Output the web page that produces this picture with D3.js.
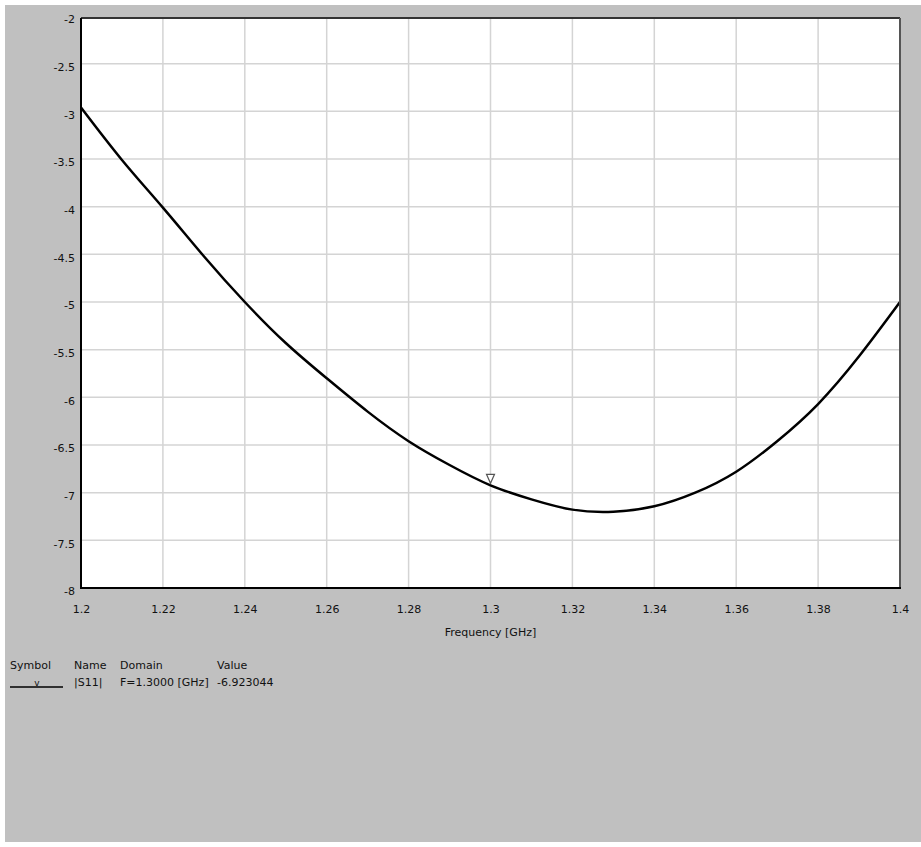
<!DOCTYPE html>
<html>
<head>
<meta charset="utf-8">
<script src="https://cdn.jsdelivr.net/npm/d3@7"></script>
<style>
  body { margin: 0; background: #fff; }
  svg text { font-family: "DejaVu Sans", sans-serif; font-size: 11px; fill: #111; }
</style>
</head>
<body>
<svg id="chart" width="921" height="847"></svg>
<script>
// |S11| in dB
const freqs = [1.20, 1.21, 1.22, 1.23, 1.24, 1.25, 1.26, 1.27, 1.28, 1.29, 1.30,
  1.31, 1.32, 1.33, 1.34, 1.35, 1.36, 1.37, 1.38, 1.39, 1.40];
const s11 = [-2.96, -3.51, -4.01, -4.52, -5.00, -5.43, -5.80, -6.15, -6.46, -6.71, -6.923,
  -7.07, -7.178, -7.20, -7.143, -7.00, -6.78, -6.46, -6.07, -5.57, -5.00];
const xTicks = [1.2, 1.22, 1.24, 1.26, 1.28, 1.3, 1.32, 1.34, 1.36, 1.38, 1.4];
const yTicks = [-2, -2.5, -3, -3.5, -4, -4.5, -5, -5.5, -6, -6.5, -7, -7.5, -8];
const markerFreq = 1.3;
const markerValue = -6.923044;
const legendHead = ['Symbol', 'Name', 'Domain', 'Value'];
const legendRow = ['', '|S11|', 'F=1.3000 [GHz]', '-6.923044'];

const svg = d3.select('#chart');
const plotLeft = 81, plotRight = 900, plotTop = 18, plotBottom = 588;

const x = d3.scaleLinear().domain([1.2, 1.4]).range([plotLeft, plotRight]);
const y = d3.scaleLinear().domain([-8, -2]).range([plotBottom, 16]);

// grey panel
svg.append('rect')
  .attr('x', 5).attr('y', 5).attr('width', 916).attr('height', 837)
  .attr('fill', '#c0c0c0');

svg.append('rect')
  .attr('x', plotLeft).attr('y', plotTop)
  .attr('width', plotRight - plotLeft).attr('height', plotBottom - plotTop)
  .attr('fill', '#fff');

// grid lines
const grid = svg.append('g');
grid.selectAll('line.v')
  .data(xTicks.slice(1, -1))
  .enter()
  .append('line')
  .attr('x1', d => x(d)).attr('x2', d => x(d))
  .attr('y1', plotTop).attr('y2', plotBottom)
  .attr('stroke', '#d4d4d4').attr('stroke-width', 1.5);
grid.selectAll('line.h')
  .data(yTicks.slice(1, -1))
  .enter()
  .append('line')
  .attr('y1', d => y(d)).attr('y2', d => y(d))
  .attr('x1', plotLeft).attr('x2', plotRight)
  .attr('stroke', '#d4d4d4').attr('stroke-width', 1.5);

// tick labels via axes (plain hyphen minus like the original)
const fmt = d => String(d);
const yAxis = svg.append('g')
  .attr('transform', `translate(${plotLeft - 6},0)`)
  .call(d3.axisLeft(y).tickValues(yTicks).tickSize(0).tickPadding(0).tickFormat(fmt));
yAxis.select('.domain').remove();
yAxis.selectAll('text').attr('dy', '0.62em').attr('font-family', null).attr('font-size', null);

const xAxis = svg.append('g')
  .attr('transform', `translate(0,${plotBottom + 17})`)
  .call(d3.axisBottom(x).tickValues(xTicks).tickSize(0).tickPadding(0).tickFormat(fmt));
xAxis.select('.domain').remove();
xAxis.selectAll('text').attr('font-family', null).attr('font-size', null);

svg.append('text')
  .attr('x', (plotLeft + plotRight) / 2).attr('y', 636)
  .attr('text-anchor', 'middle')
  .text('Frequency [GHz]');

// curve
const data = freqs.map((f, i) => ({ f, v: s11[i] }));
const line = d3.line()
  .x(d => x(d.f))
  .y(d => y(d.v))
  .curve(d3.curveNatural);

svg.append('path')
  .datum(data)
  .attr('d', line)
  .attr('fill', 'none')
  .attr('stroke', '#000')
  .attr('stroke-width', 2.5);

// marker triangle
const mx = x(markerFreq), my = y(markerValue);
svg.append('path')
  .attr('d', `M${mx - 4},${my - 11}L${mx + 4},${my - 11}L${mx},${my - 2}Z`)
  .attr('fill', '#fff')
  .attr('stroke', '#555')
  .attr('stroke-width', 1.2);

// frame
svg.append('line').attr('x1', plotLeft).attr('x2', plotRight).attr('y1', plotTop).attr('y2', plotTop)
  .attr('stroke', '#333').attr('stroke-width', 2);
svg.append('line').attr('x1', plotRight).attr('x2', plotRight).attr('y1', plotTop).attr('y2', plotBottom)
  .attr('stroke', '#555').attr('stroke-width', 2);
svg.append('line').attr('x1', plotLeft).attr('x2', plotLeft).attr('y1', plotTop).attr('y2', plotBottom + 1)
  .attr('stroke', '#000').attr('stroke-width', 2);
svg.append('line').attr('x1', plotLeft).attr('x2', plotRight + 1).attr('y1', plotBottom).attr('y2', plotBottom)
  .attr('stroke', '#000').attr('stroke-width', 2);

// marker legend table
const colX = [10, 74, 120, 217];
const legend = svg.append('g');
legend.selectAll('text.head')
  .data(legendHead)
  .enter()
  .append('text')
  .attr('x', (d, i) => colX[i]).attr('y', 669)
  .text(d => d);
legend.selectAll('text.row')
  .data(legendRow)
  .enter()
  .append('text')
  .attr('x', (d, i) => colX[i]).attr('y', 686)
  .text(d => d);
legend.append('line')
  .attr('x1', 10).attr('x2', 63).attr('y1', 687).attr('y2', 687)
  .attr('stroke', '#000').attr('stroke-width', 1.5);
legend.append('text')
  .attr('x', 37).attr('y', 686)
  .attr('text-anchor', 'middle')
  .style('font-size', '9px')
  .text('v');
</script>
</body>
</html>
